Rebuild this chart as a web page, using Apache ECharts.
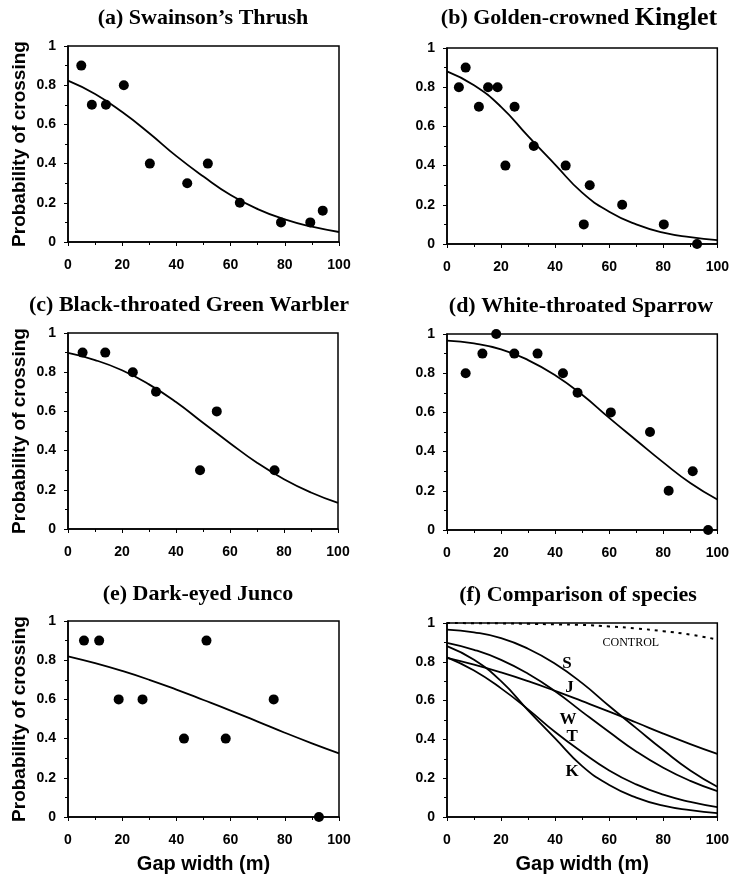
<!DOCTYPE html>
<html>
<head>
<meta charset="utf-8">
<script src="https://cdn.jsdelivr.net/npm/echarts@6/dist/echarts.min.js"></script>
<style>
html,body{margin:0;padding:0;background:#fff;}
#main{width:732px;height:879px;}
</style>
</head>
<body>
<div id="main"></div>
<script>
var gapX = [0, 10, 20, 30, 40, 50, 60, 70, 80, 90, 100];

// fitted curves (probability of crossing)
var thrushFit  = [0.823, 0.755, 0.663, 0.555, 0.438, 0.334, 0.240, 0.168, 0.115, 0.078, 0.051];
var kingletFit = [0.881, 0.810, 0.700, 0.550, 0.405, 0.262, 0.165, 0.100, 0.058, 0.035, 0.020];
var warblerFit = [0.898, 0.862, 0.810, 0.738, 0.648, 0.542, 0.438, 0.338, 0.254, 0.186, 0.133];
var sparrowFit = [0.966, 0.952, 0.922, 0.867, 0.790, 0.690, 0.572, 0.458, 0.345, 0.240, 0.156];
var juncoFit   = [0.820, 0.785, 0.745, 0.700, 0.650, 0.597, 0.543, 0.487, 0.430, 0.376, 0.325];
var controlFit = [1.000, 0.999, 0.998, 0.996, 0.993, 0.990, 0.982, 0.972, 0.958, 0.940, 0.915];

// observed points [gap width, probability]
var thrushPts  = [[4.9,0.9],[8.8,0.7],[14,0.7],[20.6,0.8],[30.2,0.4],[44,0.3],[51.6,0.4],[63.4,0.2],[78.6,0.1],[89.4,0.1],[94,0.16]];
var kingletPts = [[4.4,0.8],[6.9,0.9],[11.8,0.7],[15.2,0.8],[18.7,0.8],[21.6,0.4],[25,0.7],[32.1,0.5],[43.9,0.4],[50.6,0.1],[52.8,0.3],[64.8,0.2],[80.2,0.1],[92.5,0]];
var warblerPts = [[5.4,0.9],[13.8,0.9],[24,0.8],[32.6,0.7],[48.9,0.3],[55.1,0.6],[76.5,0.3]];
var sparrowPts = [[6.9,0.8],[13.1,0.9],[18.2,1.0],[24.9,0.9],[33.5,0.9],[42.9,0.8],[48.3,0.7],[60.6,0.6],[75.1,0.5],[82,0.2],[90.9,0.3],[96.6,0]];
var juncoPts   = [[5.9,0.9],[11.5,0.9],[18.7,0.6],[27.5,0.6],[42.8,0.4],[51.1,0.9],[58.2,0.4],[75.9,0.6],[92.6,0]];

// curve labels in panel (f)
var fLabels = ['S', 'J', 'W', 'T', 'K', 'CONTROL'];
var fLabelX = [44.4, 45.3, 44.8, 46.3, 46.3, 68];
var fLabelY = [0.79, 0.665, 0.50, 0.415, 0.235, 0.9];

var sansFont = '"Liberation Sans", Arial, sans-serif';
var serifFont = '"Liberation Serif", "Times New Roman", serif';

var panels = [
    {title:'(a) Swainson\u2019s Thrush', pts:thrushPts, fit:[thrushFit], left:68, top:46, width:271, height:196, tx:203, ty:18, yName:true, xName:false},
    {title:'(b) Golden-crowned {k|Kinglet}', pts:kingletPts, fit:[kingletFit], left:447, top:48, width:272, height:196, tx:579, ty:18, yName:false, xName:false},
    {title:'(c) Black-throated Green Warbler', pts:warblerPts, fit:[warblerFit], left:68, top:333, width:270, height:196, tx:189, ty:305, yName:true, xName:false},
    {title:'(d) White-throated Sparrow', pts:sparrowPts, fit:[sparrowFit], left:447, top:334, width:272, height:196, tx:581, ty:306, yName:false, xName:false},
    {title:'(e) Dark-eyed Junco', pts:juncoPts, fit:[juncoFit], left:68, top:621, width:271, height:196, tx:198, ty:594, yName:true, xName:true},
    {title:'(f) Comparison of species', pts:null, fit:[sparrowFit, juncoFit, warblerFit, thrushFit, kingletFit], left:447, top:623, width:272, height:194, tx:578, ty:595, yName:false, xName:true}
];

function pairs(ys){
    var out = [];
    for(var i=0; i<gapX.length; i++){
        out.push([gapX[i], ys[i]]);
    }
    return out;
}

var grids = [], xAxes = [], yAxes = [], series = [], graphics = [];

for(var p=0; p<panels.length; p++){
    var pn = panels[p];
    grids.push({
        left: pn.left, top: pn.top, width: pn.width, height: pn.height,
        show: true, borderColor: '#000', borderWidth: 1.5, backgroundColor: 'transparent'
    });
    xAxes.push({
        gridIndex: p, type: 'value', min: 0, max: 100, interval: 20,
        name: pn.xName ? 'Gap width (m)' : '',
        nameLocation: 'middle', nameGap: 37,
        nameTextStyle: {fontFamily: sansFont, fontWeight: 'bold', fontSize: 20, color: '#000'},
        axisLine: {lineStyle: {color: '#000', width: 1.5}},
        axisTick: {length: 4, lineStyle: {color: '#000'}},
        minorTick: {show: true, splitNumber: 2, length: 3, lineStyle: {color: '#000'}},
        splitLine: {show: false},
        axisLabel: {margin: 16, fontFamily: sansFont, fontWeight: 'bold', fontSize: 14, color: '#000'}
    });
    yAxes.push({
        gridIndex: p, type: 'value', min: 0, max: 1, interval: 0.2,
        name: pn.yName ? 'Probability of crossing' : '',
        nameLocation: 'middle', nameGap: 39, nameRotate: 90,
        nameTextStyle: {fontFamily: sansFont, fontWeight: 'bold', fontSize: 19, color: '#000'},
        axisLine: {lineStyle: {color: '#000', width: 1.5}},
        axisTick: {length: 4, lineStyle: {color: '#000'}},
        minorTick: {show: true, splitNumber: 2, length: 3, lineStyle: {color: '#000'}},
        splitLine: {show: false},
        axisLabel: {margin: 12, fontFamily: sansFont, fontWeight: 'bold', fontSize: 14, color: '#000'}
    });
    if(pn.pts){
        series.push({
            type: 'scatter', xAxisIndex: p, yAxisIndex: p,
            symbolSize: 10, itemStyle: {color: '#000', opacity: 1},
            data: pn.pts, z: 3
        });
    }
    for(var k=0; k<pn.fit.length; k++){
        series.push({
            type: 'line', xAxisIndex: p, yAxisIndex: p,
            smooth: true, symbol: 'none',
            lineStyle: {color: '#000', width: 1.8},
            data: pairs(pn.fit[k]), z: 2
        });
    }
    graphics.push({
        type: 'text', x: pn.tx, y: pn.ty,
        style: {
            text: pn.title, align: 'center', verticalAlign: 'middle',
            font: 'bold 22px ' + serifFont, fill: '#000',
            rich: {k: {fontFamily: serifFont, fontWeight: 'bold', fontSize: 26}}
        }
    });
}

// control curve (dashed) and curve labels in panel (f)
series.push({
    type: 'line', xAxisIndex: 5, yAxisIndex: 5,
    smooth: true, symbol: 'none',
    lineStyle: {color: '#000', width: 2, type: [3, 5]},
    data: pairs(controlFit), z: 2
});
var labelData = [];
for(var j=0; j<fLabels.length; j++){
    labelData.push({name: fLabels[j], value: [fLabelX[j], fLabelY[j]]});
}
series.push({
    type: 'scatter', xAxisIndex: 5, yAxisIndex: 5,
    symbolSize: 0, silent: true, itemStyle: {opacity: 1},
    label: {
        show: true, position: 'inside', formatter: '{b}',
        fontFamily: serifFont, color: '#000', opacity: 1,
        fontWeight: 'bold', fontSize: 17
    },
    data: labelData.slice(0, 5), z: 4
});
series.push({
    type: 'scatter', xAxisIndex: 5, yAxisIndex: 5,
    symbolSize: 0, silent: true, itemStyle: {opacity: 1},
    label: {
        show: true, position: 'inside', formatter: '{b}',
        fontFamily: serifFont, color: '#000', opacity: 1,
        fontWeight: 'normal', fontSize: 12
    },
    data: labelData.slice(5), z: 4
});

var chart = echarts.init(document.getElementById('main'));
chart.setOption({
    backgroundColor: '#fff',
    animation: false,
    grid: grids,
    xAxis: xAxes,
    yAxis: yAxes,
    series: series,
    graphic: graphics
});
</script>
</body>
</html>
